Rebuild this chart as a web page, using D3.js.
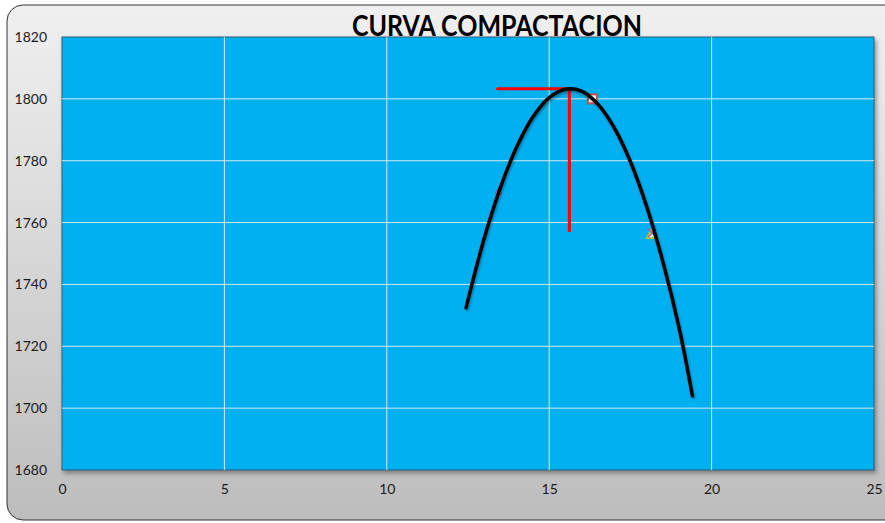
<!DOCTYPE html>
<html>
<head>
<meta charset="utf-8">
<script src="https://cdn.jsdelivr.net/npm/d3@7"></script>
<style>
  body { margin: 0; background: #fff; }
  svg { display: block; }
</style>
</head>
<body>
<div id="chart"></div>
<script>
// trend curve at regular steps
const curveX = [12.44, 13.0, 13.5, 14.0, 14.5, 15.0, 15.5, 16.0, 16.5, 17.0, 17.5, 18.0, 18.5, 19.0, 19.41];
const curveY = [1732.5, 1755, 1771.4, 1784.5, 1794.2, 1800.4, 1803.1, 1802.5, 1798.3, 1790.7, 1779.7, 1765.2, 1747.3, 1725.9, 1704];

// measured points
const pointX = [13.44, 16.33, 18.17];
const pointY = [1769.6, 1800, 1756.3];
const pointShape = ["diamond", "square", "triangle"];

// max density guide lines
const optX = [13.41, 15.62];
const optY = [1803.3, 1757];

const xTicks = [0, 5, 10, 15, 20, 25];
const yTicks = [1680, 1700, 1720, 1740, 1760, 1780, 1800, 1820];

const width = 885, height = 523;
const plot = { left: 62, right: 874, top: 37, bottom: 470 };

const svg = d3.select("#chart").append("svg")
  .attr("width", width).attr("height", height)
  .style("font-family", "Lato, 'Open Sans', sans-serif");

const defs = svg.append("defs");
const bg = defs.append("linearGradient").attr("id", "bg")
  .attr("x1", 0).attr("y1", 0).attr("x2", 0).attr("y2", 1);
bg.append("stop").attr("offset", "0%").attr("stop-color", "#f0f0f0");
bg.append("stop").attr("offset", "100%").attr("stop-color", "#bdbdbd");

const shadow = defs.append("filter").attr("id", "shadow")
  .attr("x", "-5%").attr("y", "-5%").attr("width", "110%").attr("height", "115%");
shadow.append("feDropShadow").attr("dx", 2).attr("dy", 3)
  .attr("stdDeviation", 2).attr("flood-color", "#555").attr("flood-opacity", 0.6);

const lineShadow = defs.append("filter").attr("id", "lshadow")
  .attr("x", "-20%").attr("y", "-20%").attr("width", "140%").attr("height", "140%");
lineShadow.append("feDropShadow").attr("dx", 1).attr("dy", 2)
  .attr("stdDeviation", 1).attr("flood-color", "#000").attr("flood-opacity", 0.35);

// chart frame
svg.append("rect")
  .attr("x", 7).attr("y", 5).attr("width", 900).attr("height", 515)
  .attr("rx", 16).attr("ry", 16)
  .attr("fill", "url(#bg)").attr("stroke", "#333").attr("stroke-width", 1);

const x = d3.scaleLinear().domain([0, 25]).range([plot.left, plot.right]);
const y = d3.scaleLinear().domain([1680, 1820]).range([plot.bottom, plot.top]);

svg.append("rect")
  .attr("x", plot.left).attr("y", plot.top)
  .attr("width", plot.right - plot.left).attr("height", plot.bottom - plot.top)
  .attr("fill", "#00b0f0").attr("stroke", "#2f5f7a").attr("stroke-width", 1)
  .attr("filter", "url(#shadow)");

// grid
const grid = svg.append("g").attr("stroke", "#d8e8f0").attr("stroke-width", 1);
grid.selectAll(".gx").data(xTicks.slice(1, -1)).join("line")
  .attr("x1", d => x(d)).attr("x2", d => x(d))
  .attr("y1", plot.top).attr("y2", plot.bottom);
grid.selectAll(".gy").data(yTicks.slice(1, -1)).join("line")
  .attr("x1", plot.left).attr("x2", plot.right)
  .attr("y1", d => y(d)).attr("y2", d => y(d));

// axes (labels only)
const xAxis = svg.append("g")
  .attr("transform", `translate(0,${plot.bottom + 14})`)
  .call(d3.axisBottom(x).tickValues(xTicks).tickFormat(d3.format("d")).tickSize(0).tickPadding(0));
const yAxis = svg.append("g")
  .attr("transform", `translate(${plot.left - 15},0)`)
  .call(d3.axisLeft(y).tickValues(yTicks).tickFormat(d3.format("d")).tickSize(0).tickPadding(0));
[xAxis, yAxis].forEach(a => {
  a.select(".domain").remove();
  a.selectAll("text").attr("fill", "#1a1a1a")
    .style("font-size", "14px").style("font-family", "Lato, 'Open Sans', sans-serif");
});

// guide lines
svg.append("line")
  .attr("x1", x(optX[0])).attr("x2", x(optX[1]))
  .attr("y1", y(optY[0])).attr("y2", y(optY[0]))
  .attr("stroke", "#ff0000").attr("stroke-width", 3).attr("stroke-linecap", "round");
svg.append("line")
  .attr("x1", x(optX[1])).attr("x2", x(optX[1]))
  .attr("y1", y(optY[0])).attr("y2", y(optY[1]))
  .attr("stroke", "#ff0000").attr("stroke-width", 3);

// points
const pts = pointX.map((d, i) => ({ x: d, y: pointY[i], shape: pointShape[i] }));
const pg = svg.append("g").selectAll("g").data(pts).join("g")
  .attr("transform", d => `translate(${x(d.x)},${y(d.y)})`);
pg.filter(d => d.shape === "diamond").append("path")
  .attr("d", d3.symbol(d3.symbolDiamond, 30)())
  .attr("fill", "#f4d0e0").attr("stroke", "#6a6ab0").attr("stroke-width", 1.5);
pg.filter(d => d.shape === "square").append("rect")
  .attr("x", -4.5).attr("y", -4.5).attr("width", 9).attr("height", 9)
  .attr("fill", "#fff").attr("stroke", "#c0504d").attr("stroke-width", 2);
pg.filter(d => d.shape === "triangle").append("path")
  .attr("d", d3.symbol(d3.symbolTriangle, 50)())
  .attr("transform", "translate(0,1)")
  .attr("fill", "#f4f0c0").attr("stroke", "#b8c040").attr("stroke-width", 2);
pg.filter(d => d.shape === "triangle").append("path")
  .attr("d", "M-4,-5L4,3M4,-5L-4,3")
  .attr("stroke", "#a05aa0").attr("stroke-width", 1.2);

// trend curve
const line = d3.line()
  .x((d, i) => x(curveX[i])).y(d => y(d))
  .curve(d3.curveCatmullRom.alpha(0.5));
svg.append("path")
  .attr("d", line(curveY))
  .attr("fill", "none").attr("stroke", "#000").attr("stroke-width", 3.5)
  .attr("stroke-linecap", "round")
  .attr("filter", "url(#lshadow)");

// title
svg.append("text")
  .attr("x", 497).attr("y", 36)
  .attr("text-anchor", "middle")
  .attr("textLength", 290).attr("lengthAdjust", "spacingAndGlyphs")
  .style("font-size", "29px").style("font-weight", "bold")
  .attr("fill", "#000")
  .text("CURVA COMPACTACION");
</script>
</body>
</html>
